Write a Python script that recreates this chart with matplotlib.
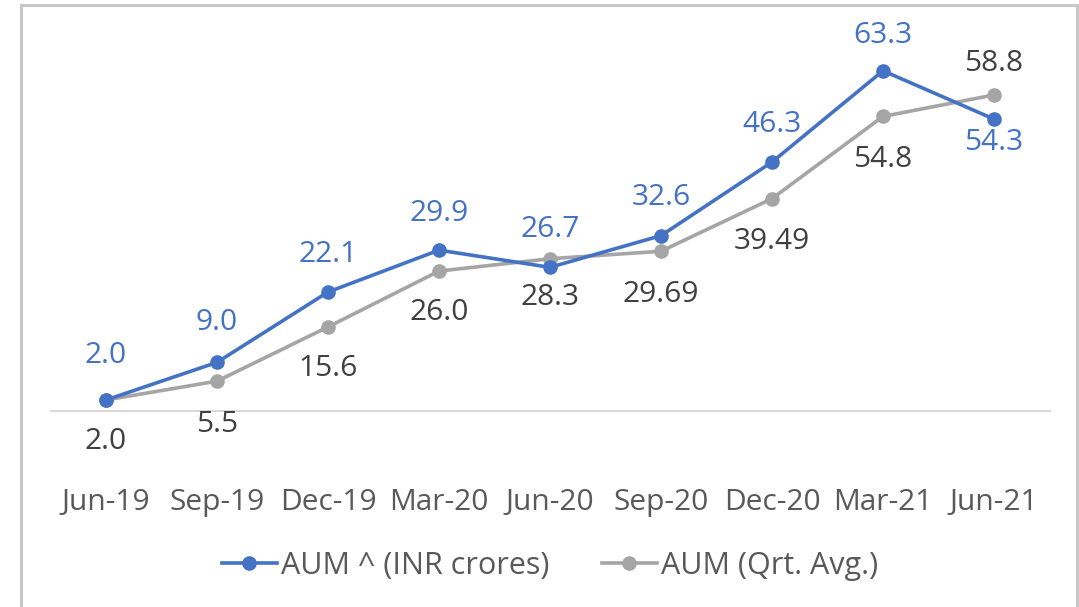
import matplotlib.pyplot as plt
from matplotlib.patches import Rectangle

# quarter labels and the two AUM series
quarters = ['Jun-19', 'Sep-19', 'Dec-19', 'Mar-20', 'Jun-20',
            'Sep-20', 'Dec-20', 'Mar-21', 'Jun-21']
aum = [2.0, 9.0, 22.1, 29.9, 26.7, 32.6, 46.3, 63.3, 54.3]
aum_avg = [2.0, 5.5, 15.6, 26.0, 28.3, 29.69, 39.49, 54.8, 58.8]
aum_text = ['2.0', '9.0', '22.1', '29.9', '26.7', '32.6', '46.3', '63.3', '54.3']
avg_text = ['2.0', '5.5', '15.6', '26.0', '28.3', '29.69', '39.49', '54.8', '58.8']

# label offsets in pixels (positive = above the point)
aum_off = [44, 40, 38, 37, 38, 38, 38, 35, -23]
avg_off = [-42, -43, -42, -41, -39, -43, -43, -43, 31]

BLUE = '#4472C4'
GREY = '#A5A5A5'
FONT = 'Open Sans'
FS = 21.5

plt.rcParams['font.family'] = [FONT, 'DejaVu Sans']

fig = plt.figure(figsize=(10.79, 6.07), dpi=100)
# chart frame
fig.patches.append(Rectangle((21 / 1079, -0.05), 1056 / 1079, 1.05 - 5 / 607,
                             transform=fig.transFigure, fill=False,
                             edgecolor='#C8C8C8', linewidth=2.2))

ax = fig.add_axes([50.5 / 1079, (607 - 410.7) / 607, 999 / 1079, 375.9 / 607])
x = list(range(len(quarters)))

ax.plot(x, aum, color=BLUE, linewidth=2.6, marker='o', markersize=9.5,
        label='AUM ^ (INR crores)', zorder=3)
ax.plot(x, aum_avg, color=GREY, linewidth=2.6, marker='o', markersize=9.5,
        label='AUM (Qrt. Avg.)', zorder=2)

for xi, v, t, o in zip(x, aum, aum_text, aum_off):
    ax.annotate(t, (xi, v), xytext=(0, o), textcoords='offset pixels',
                ha='center', va='center', fontsize=FS, color=BLUE)
for xi, v, t, o in zip(x, aum_avg, avg_text, avg_off):
    ax.annotate(t, (xi, v), xytext=(0, o), textcoords='offset pixels',
                ha='center', va='center', fontsize=FS, color='#404040')

ax.set_xlim(-0.5, len(quarters) - 0.5)
ax.set_ylim(0, 70)
ax.set_xticks(x)
ax.set_xticklabels(quarters, fontsize=FS, color='#595959')
ax.tick_params(axis='x', length=0, pad=56)
ax.set_yticks([])
for s in ['top', 'right', 'left']:
    ax.spines[s].set_visible(False)
ax.spines['bottom'].set_color('#D9D9D9')
ax.spines['bottom'].set_linewidth(1.5)
ax.patch.set_alpha(0)

leg = ax.legend(loc='center', bbox_to_anchor=(0.5, (410.7 - 566) / 375.9),
                ncol=2, frameon=False, fontsize=22, handlelength=1.8,
                handletextpad=0.15, columnspacing=1.7)
for t in leg.get_texts():
    t.set_color('#595959')

fig.savefig('out.png', dpi=100)
